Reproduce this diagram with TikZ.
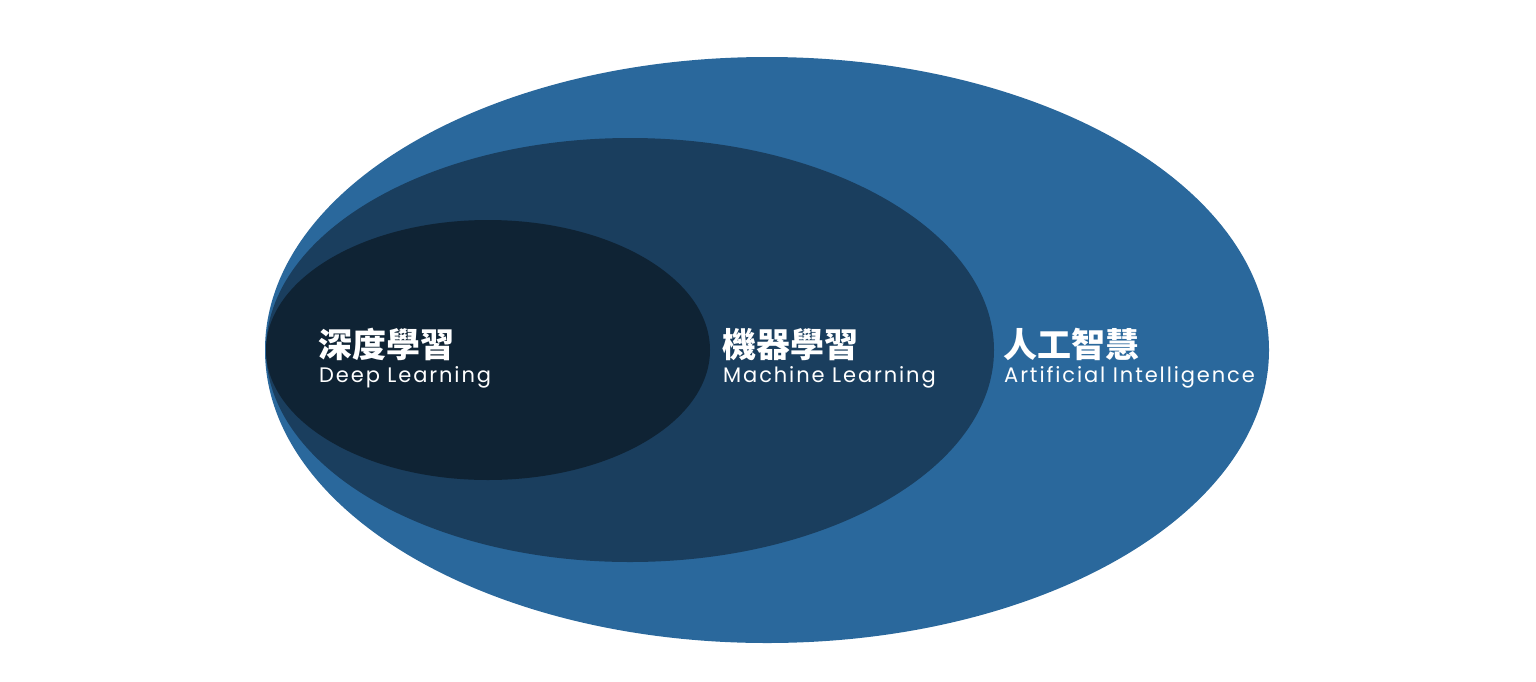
\documentclass[tikz,border=0pt]{standalone}
\usepackage{fontspec}
\usepackage{tikz}
\newfontfamily\cjk{Noto Sans CJK TC}
\newfontfamily\latin{Poppins}[LetterSpace=9]
\definecolor{aiblue}{HTML}{2A689C}
\definecolor{mlblue}{HTML}{1A3E5E}
\definecolor{dlblue}{HTML}{0F2334}

\begin{document}
\begin{tikzpicture}[
  x=1pt,y=-1pt,
  every node/.style={text=white,inner sep=0pt,anchor=base west},
  title/.style={font=\cjk\bfseries\fontsize{34}{34}\selectfont},
  sub/.style={font=\latin\fontsize{21}{21}\selectfont}
]
\useasboundingbox (0,0) rectangle (1536,681);
\fill[aiblue] (767,350) ellipse [x radius=502,y radius=293];
\fill[mlblue] (630,350) ellipse [x radius=364,y radius=212];
\fill[dlblue] (488,350) ellipse [x radius=222,y radius=130];
\node[title] (dltitle) at (318,357) {深度學習};
\node[sub] (dlsub) at (319,382) {Deep Learning};
\node[title] (mltitle) at (722,357) {機器學習};
\node[sub] (mlsub) at (723,382) {Machine Learning};
\node[title] (aititle) at (1003,357) {人工智慧};
\node[sub] (aisub) at (1004,382) {Artificial Intelligence};
\end{tikzpicture}
\end{document}
